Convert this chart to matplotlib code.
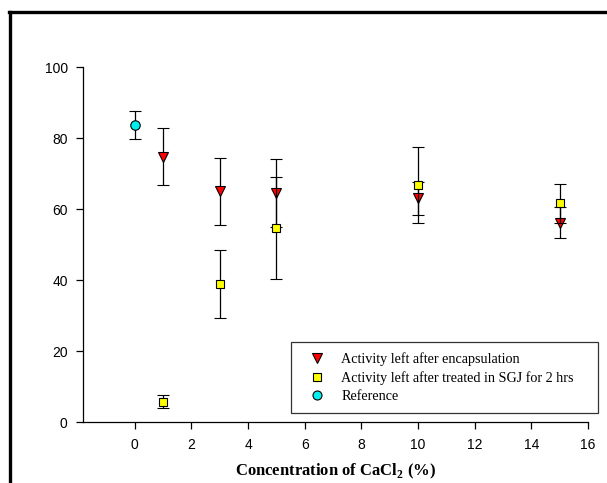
"""
plot.py - CaCl2 concentration vs. residual enzyme activity.
Run:  python plot.py
"""

import matplotlib
matplotlib.use("Agg")
import matplotlib.pyplot as plt
from matplotlib.lines import Line2D

# --- data ---
enc_x = [1, 3, 5, 10, 15]
enc_y = [74.8, 65.0, 64.5, 63.0, 56.2]
enc_err = [7.9, 9.5, 9.5, 4.7, 4.4]

sgj_x = [1, 3, 5, 10, 15]
sgj_y = [5.8, 39.0, 54.6, 66.8, 61.7]
sgj_err = [1.8, 9.6, 14.4, 10.6, 5.5]

ref_x = [0]
ref_y = [83.7]
ref_err = [4.0]

labels = ["Activity left after encapsulation",
          "Activity left after treated in SGJ for 2 hrs",
          "Reference"]
x_ticks = [0, 2, 4, 6, 8, 10, 12, 14, 16]
y_ticks = [0, 20, 40, 60, 80, 100]

SANS = ["Liberation Sans", "DejaVu Sans"]
SERIF = ["Liberation Serif", "DejaVu Serif"]


def main():
    fig = plt.figure(figsize=(6.07, 4.83), dpi=100)
    ax = fig.add_axes([83 / 607, 1 - 422.3 / 483, (588 - 83) / 607,
                       (422.3 - 67) / 483])

    eb = dict(ecolor="black", elinewidth=0.9, capsize=4.0, capthick=0.9,
              ls="none", markeredgecolor="black", markeredgewidth=0.8)
    ax.errorbar(enc_x, enc_y, yerr=enc_err, marker="v", ms=6.8,
                mfc="#FF0000", label=labels[0], zorder=3, **eb)
    ax.errorbar(sgj_x, sgj_y, yerr=sgj_err, marker="s", ms=6.0,
                mfc="#FFFF00", label=labels[1], zorder=4, **eb)
    ax.errorbar(ref_x, ref_y, yerr=ref_err, marker="o", ms=6.8,
                mfc="#00EEEE", label=labels[2], zorder=4, **eb)

    ax.set_xlim(-1.83, 16)
    ax.set_ylim(0, 100)
    ax.set_xticks(x_ticks)
    ax.set_yticks(y_ticks)
    for s in ["top", "right"]:
        ax.spines[s].set_visible(False)
    for s in ["left", "bottom"]:
        ax.spines[s].set_linewidth(0.9)
    ax.tick_params(direction="out", length=5, width=0.9, labelsize=10,
                   pad=6)
    for t in ax.get_xticklabels() + ax.get_yticklabels():
        t.set_family(SANS)

    ax.set_xlabel("Concentration of CaCl$_\\mathregular{2}$ (%)",
                  family=SERIF, fontweight="bold", fontsize=12,
                  labelpad=7)

    handles = [Line2D([], [], ls="none", marker=m, ms=6.5 if m != "s" else 5.8,
                      mfc=c, mec="black", mew=0.8)
               for m, c in zip(["v", "s", "o"],
                               ["#FF0000", "#FFFF00", "#00EEEE"])]
    leg = fig.legend(handles, labels, loc="lower left",
                     bbox_to_anchor=(291 / 607, 1 - 412.5 / 483,
                                     (598 - 291) / 607, (412.5 - 341) / 483),
                     mode="expand", prop={"family": SERIF, "size": 10.2},
                     fancybox=False, framealpha=1, edgecolor="#333333",
                     borderpad=0.7, labelspacing=0.35, handletextpad=0.56,
                     handlelength=2.3, borderaxespad=0)
    leg.get_frame().set_linewidth(0.9)

    # thick frame on the left and top edge of the picture
    fig.add_artist(Line2D([8.5 / 607, 1], [1 - 12 / 483] * 2,
                          color="black", lw=2.4,
                          transform=fig.transFigure))
    fig.add_artist(Line2D([9.5 / 607] * 2, [0, 1 - 12 / 483],
                          color="black", lw=2.4,
                          transform=fig.transFigure))

    fig.savefig("out.png", dpi=100)


if __name__ == "__main__":
    main()
